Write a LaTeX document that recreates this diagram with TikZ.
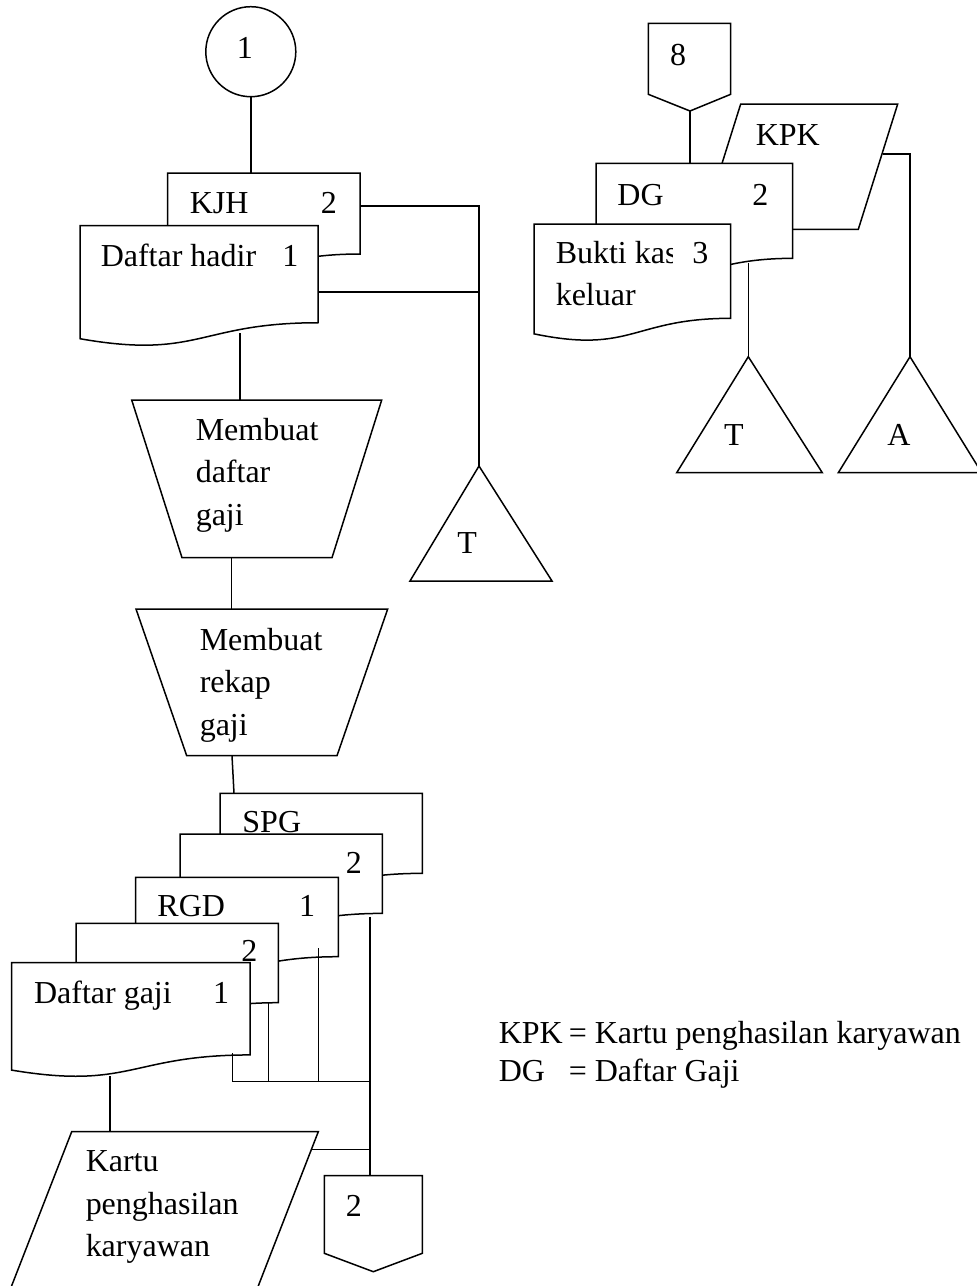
\documentclass[tikz,border=0pt]{standalone}
\usepackage{fontspec}
\setmainfont{Liberation Serif}
\newcommand\mydoc[4]{\path[shp] (#1,#2) -- ({#1+#3},#2) -- ({#1+#3},{#2+0.802*#4}) .. controls ({#1+0.5*#3},{#2+0.802*#4}) and ({#1+0.5*#3},{#2+1.1075*#4}) .. (#1,{#2+0.934*#4}) -- cycle;}
\begin{document}
\begin{tikzpicture}[x=0.5pt,y=-0.5pt,line width=0.75pt,
  lbl/.style={anchor=base west,inner sep=0pt,font=\fontsize{16}{20}\selectfont},
  shp/.style={draw,fill=white,line join=miter},
  conn/.style={draw}]
\useasboundingbox (0,0) rectangle (977,1286);

% ---------- left top ----------
\node[draw,circle,minimum size=45pt,inner sep=0pt] (c1) at (250.8,51.7) {};
\node[lbl] (c1t) at (236,58.3) {1};
\mydoc{167.7}{173}{192.3}{101}
\node[lbl] (kjh) at (189,213) {KJH};
\node[lbl] (kjh2) at (320,213) {2};
\mydoc{80}{225.7}{238}{121}
\node[lbl] (dh) at (100,266.7) {Daftar hadir};
\node[lbl] (dh1) at (281.7,266.7) {1};

\path[shp] (131.7,400) -- (381.7,400) -- (332,557.7) -- (182,557.7) -- cycle;
\node[lbl] (m1a) at (195,440) {Membuat};
\node[lbl] (m1b) at (195,482.5) {daftar};
\node[lbl] (m1c) at (195,525) {gaji};
\path[shp] (136,609) -- (387.7,609) -- (337,755.7) -- (186.7,755.7) -- cycle;
\node[lbl] (m2a) at (199,650) {Membuat};
\node[lbl] (m2b) at (199,692.5) {rekap};
\node[lbl] (m2c) at (199,735) {gaji};

\path[shp] (479,466) -- (552,581) -- (410,581) -- cycle;
\node[lbl] (tl) at (456.7,553.3) {T};

\coordinate (kjhT) at (250.8,173);
\coordinate (kjhR) at (360,206);
\coordinate (j1) at (479,206);
\coordinate (dhR) at (318,292);
\coordinate (j2) at (479,292);
\coordinate (tlTop) at (479,466);
\coordinate (dhB) at (240,333);
\coordinate (tp1T) at (240,400);
\coordinate (tp1B) at (231.7,557.7);
\coordinate (tp2T) at (231.7,609);
\coordinate (tp2B) at (232,755.7);
\coordinate (spgT) at (234,793.3);
\draw (c1.south) -- (kjhT);
\draw (kjhR) -- (j1) -- (tlTop);
\draw (dhR) -- (j2);
\draw (dhB) -- (tp1T);
\draw (tp1B) -- (tp2T);
\draw (tp2B) -- (spgT);

% ---------- bottom stack ----------
\mydoc{220}{793.3}{202.3}{99.8}
\node[lbl] (spg) at (241.7,832.7) {SPG};
\mydoc{180}{834}{202.3}{99}
\node[lbl] (d2n) at (345,873.3) {2};
\mydoc{135.7}{877.3}{202.6}{99}
\node[lbl] (rgd) at (156.7,916.7) {RGD};
\node[lbl] (rgd1) at (298.3,916.7) {1};
\mydoc{76}{923.3}{202.3}{99}
\node[lbl] (d4n) at (240.7,961.7) {2};
\mydoc{11.7}{962.7}{238.3}{115}
\node[lbl] (dg) at (33.3,1003) {Daftar gaji};
\node[lbl] (dg1) at (212.3,1003) {1};

\path[draw,line join=miter] (10,1290) -- (71.7,1131.7) -- (318.3,1131.7) -- (256.7,1290);
\node[lbl] (k1) at (85,1171.7) {Kartu};
\node[lbl] (k2) at (85,1214.5) {penghasilan};
\node[lbl] (k3) at (85,1256.7) {karyawan};

\path[shp] (324.3,1175.7) -- (422.3,1175.7) -- (422.3,1253.3) -- (373.3,1271.7) -- (324.3,1253.3) -- cycle;
\node[lbl] (op2) at (345,1216.7) {2};

\coordinate (dgB1) at (232.3,1053);
\coordinate (jA) at (232.3,1081.7);
\coordinate (d4B) at (268.3,1003);
\coordinate (jB) at (268.3,1081.7);
\coordinate (rgdB) at (318.3,948.3);
\coordinate (jC) at (318.3,1081.7);
\coordinate (d2B) at (370,916.7);
\coordinate (jD) at (370,1081.7);
\coordinate (jE) at (370,1149.3);
\coordinate (opT) at (370,1175.7);
\coordinate (kpR) at (311.3,1149.3);
\coordinate (dgaB) at (110,1076);
\coordinate (kartuT) at (110,1131.7);
\draw (dgB1) -- (jA) -- (jD);
\draw (d4B) -- (jB);
\draw (rgdB) -- (jC);
\draw (d2B) -- (opT);
\draw (kpR) -- (jE);
\draw (dgaB) -- (kartuT);

% ---------- right top ----------
\path[shp] (648.3,23.3) -- (730.7,23.3) -- (730.7,94.3) -- (690,111) -- (648.3,94.3) -- cycle;
\node[lbl] (op8) at (669.3,65) {8};
\path[shp] (740.7,104) -- (897.7,104) -- (858.3,229.3) -- (701.3,229.3) -- cycle;
\node[lbl] (kpk) at (755,145) {KPK};
\mydoc{596}{163.3}{196.7}{118.5}
\node[lbl] (dgr) at (616.7,205) {DG};
\node[lbl] (dgr2) at (751.7,205) {2};
\mydoc{534}{224}{196.7}{117.6}
\begin{scope}
\clip (540,225) rectangle (672,300);
\node[lbl] (bk) at (555,263.3) {Bukti kas};
\end{scope}
\node[lbl] (bk3) at (691.7,263.3) {3};
\node[lbl] (bk2) at (555,305) {keluar};

\path[shp] (748.3,356.7) -- (822.3,472.7) -- (676.7,472.7) -- cycle;
\node[lbl] (tr) at (723.3,445) {T};
\path[shp] (910,356.7) -- (981.7,472.7) -- (838.3,472.7) -- cycle;
\node[lbl] (ar) at (886.7,445) {A};

\coordinate (op8B) at (690,111);
\coordinate (dgT) at (690,163.3);
\coordinate (kpkR) at (883.3,154);
\coordinate (kA) at (910,154);
\coordinate (aTop) at (910,356.7);
\coordinate (dgB) at (748.3,263.3);
\coordinate (trTop) at (748.3,356.7);
\draw (op8B) -- (dgT);
\draw (kpkR) -- (kA) -- (aTop);
\draw (dgB) -- (trTop);

% ---------- legend ----------
\node[lbl] (lg1) at (498,1043.3) {KPK};
\node[lbl] (lg1b) at (568,1043.3) {= Kartu penghasilan karyawan};
\node[lbl] (lg2) at (498,1081.7) {DG};
\node[lbl] (lg2b) at (568,1081.7) {= Daftar Gaji};
\end{tikzpicture}
\end{document}
